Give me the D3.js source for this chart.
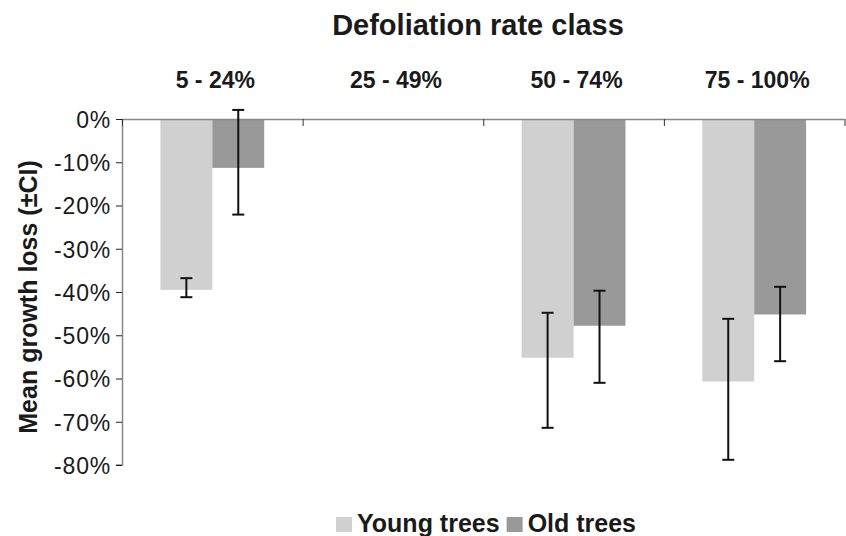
<!DOCTYPE html>
<html>
<head>
<meta charset="utf-8">
<script src="https://cdn.jsdelivr.net/npm/d3@7"></script>
<style>
  body { margin: 0; background: #fff; }
  svg { font-family: "Liberation Sans", Arial, sans-serif; }
</style>
</head>
<body>
<svg id="chart" width="846" height="536"></svg>
<script>
// categories and series
var classes = ["5 - 24%", "25 - 49%", "50 - 74%", "75 - 100%"];
var series = ["Young trees", "Old trees"];
var seriesColors = ["#d0d0d0", "#999999"];

// mean growth loss (%), null = no data
var youngMean = [-39.5, null, -55.2, -60.7];
var oldMean = [-11.3, null, -47.8, -45.2];
// confidence interval ends
var youngLow = [-41.2, null, -71.4, -78.8];
var youngHigh = [-36.8, null, -44.8, -46.2];
var oldLow = [-22.1, null, -61.0, -56.0];
var oldHigh = [2.1, null, -39.7, -38.8];

var yTicks = [0, -10, -20, -30, -40, -50, -60, -70, -80];

var margin = {top: 119, left: 122},
    w = 722.5,
    h = 346;

var svg = d3.select("#chart");
var g = svg.append("g").attr("transform", "translate(" + margin.left + "," + margin.top + ")");

var x = d3.scaleBand().domain(classes).range([0, w]).padding(0);
var xs = d3.scaleBand().domain(series).range([0, x.bandwidth()]).paddingInner(0).paddingOuter(0.74);
var y = d3.scaleLinear().domain([0, -80]).range([0, h]);

// bars
var rows = [];
classes.forEach(function(c, i) {
  rows.push({cls: c, s: series[0], mean: youngMean[i], lo: youngLow[i], hi: youngHigh[i], color: seriesColors[0]});
  rows.push({cls: c, s: series[1], mean: oldMean[i], lo: oldLow[i], hi: oldHigh[i], color: seriesColors[1]});
});
rows = rows.filter(function(d) { return d.mean !== null; });

g.selectAll("rect.bar")
  .data(rows)
  .enter().append("rect")
  .attr("class", "bar")
  .attr("x", function(d) { return x(d.cls) + xs(d.s); })
  .attr("y", y(0))
  .attr("width", xs.bandwidth())
  .attr("height", function(d) { return y(d.mean) - y(0); })
  .attr("fill", function(d) { return d.color; });

// y axis
var yAxis = g.append("g")
  .call(d3.axisLeft(y).tickValues(yTicks).tickSize(6).tickFormat(function(d) { return d + "%"; }));
yAxis.select(".domain").attr("stroke", "#888").attr("stroke-width", 1.5).attr("d", "M0.5," + y(0) + "V" + y(-80) + "H-6");
yAxis.selectAll(".tick line").attr("stroke", "#222");
yAxis.selectAll(".tick text")
  .attr("font-size", 23)
  .attr("letter-spacing", "0.8px")
  .attr("fill", "#1a1a1a")
  .attr("x", -11)
  .attr("dy", "0.36em");

// top axis with category boundaries
var bounds = classes.map(function(c) { return x(c); }).concat([w]);
var xLin = d3.scaleLinear().domain([0, w]).range([0, w]);
var xAxis = g.append("g")
  .call(d3.axisBottom(xLin).tickValues(bounds).tickSize(7).tickFormat(""));
xAxis.select(".domain").attr("stroke", "#888").attr("stroke-width", 1.5).attr("d", "M0,0.5H" + w);
xAxis.selectAll(".tick line").attr("stroke", "#333");

// category labels
g.selectAll("text.cat")
  .data(classes)
  .enter().append("text")
  .attr("class", "cat")
  .attr("x", function(d) { return x(d) + x.bandwidth() / 2 + 3; })
  .attr("y", -31)
  .attr("text-anchor", "middle")
  .attr("font-size", 23)
  .attr("font-weight", "bold")
  .attr("fill", "#1a1a1a")
  .text(function(d) { return d; });

// error bars
var err = g.selectAll("g.err")
  .data(rows)
  .enter().append("g")
  .attr("class", "err")
  .attr("transform", function(d) { return "translate(" + (x(d.cls) + xs(d.s) + xs.bandwidth() / 2) + ",0)"; });
err.append("line")
  .attr("y1", function(d) { return y(d.lo); })
  .attr("y2", function(d) { return y(d.hi); })
  .attr("stroke", "#111").attr("stroke-width", 2);
err.selectAll("line.cap")
  .data(function(d) { return [d.lo, d.hi]; })
  .enter().append("line")
  .attr("class", "cap")
  .attr("x1", -6).attr("x2", 6)
  .attr("y1", function(v) { return y(v); })
  .attr("y2", function(v) { return y(v); })
  .attr("stroke", "#111").attr("stroke-width", 2);

// title
svg.append("text")
  .attr("x", 478).attr("y", 35)
  .attr("text-anchor", "middle")
  .attr("font-size", 29)
  .attr("font-weight", "bold")
  .attr("fill", "#1a1a1a")
  .text("Defoliation rate class");

// y label
svg.append("text")
  .attr("transform", "translate(37,297) rotate(-90)")
  .attr("text-anchor", "middle")
  .attr("font-size", 25)
  .attr("font-weight", "bold")
  .attr("fill", "#1a1a1a")
  .text("Mean growth loss (\u00b1CI)");

// legend
var legend = svg.append("g");
var lx = 0;
series.forEach(function(s, i) {
  legend.append("rect")
    .attr("x", lx).attr("y", -15)
    .attr("width", 16).attr("height", 15)
    .attr("fill", seriesColors[i]);
  var t = legend.append("text")
    .attr("x", lx + 21).attr("y", 0)
    .attr("font-size", 25)
    .attr("font-weight", "bold")
    .attr("fill", "#1a1a1a")
    .text(s);
  lx += 21 + t.node().getComputedTextLength() + 7;
});
legend.attr("transform", "translate(" + (486 - (lx - 7) / 2) + ",532)");
</script>
</body>
</html>
